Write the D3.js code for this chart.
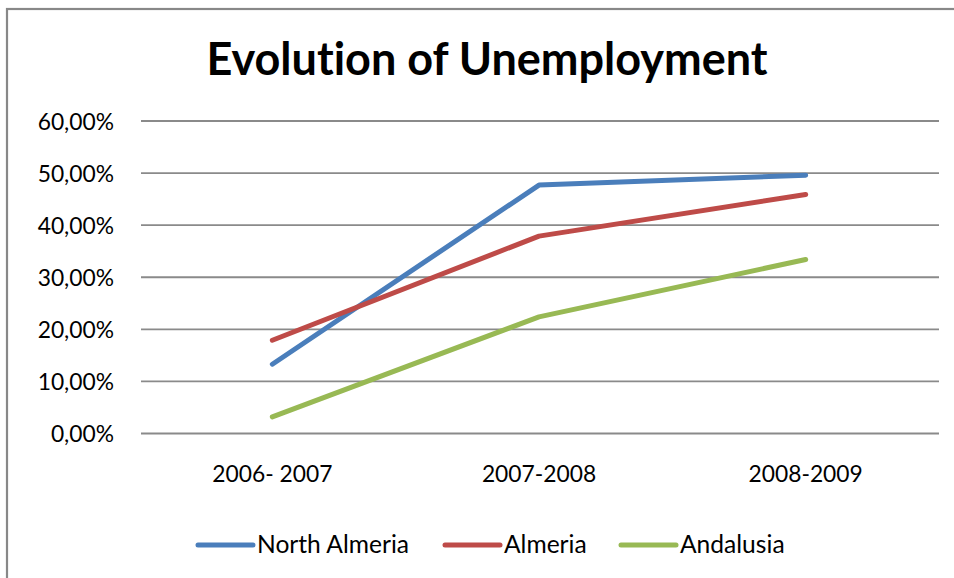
<!DOCTYPE html>
<html>
<head>
<meta charset="utf-8">
<script src="https://cdn.jsdelivr.net/npm/d3@7/dist/d3.min.js"></script>
<style>
  html, body { margin: 0; padding: 0; background: #fff; }
  svg { display: block; }
  text { font-family: Lato, "Open Sans", sans-serif; fill: #000; font-variant-ligatures: none; }
</style>
</head>
<body>
<svg id="chart" width="954" height="578"></svg>
<script>
// Unemployment rate per period
const periods = ["2006- 2007", "2007-2008", "2008-2009"];
const seriesNames = ["North Almeria", "Almeria", "Andalusia"];
const northAlmeria = [0.133, 0.477, 0.496];
const almeria = [0.179, 0.379, 0.459];
const andalusia = [0.032, 0.224, 0.334];
const seriesColors = ["#4a7ebb", "#be4b48", "#98b954"];
const yTicks = [0, 0.1, 0.2, 0.3, 0.4, 0.5, 0.6];

const series = [northAlmeria, almeria, andalusia].map((values, i) => ({
  name: seriesNames[i], color: seriesColors[i], values
}));

const svg = d3.select("#chart");

// outer frame
svg.append("rect")
  .attr("x", 7).attr("y", 9)
  .attr("width", 970).attr("height", 600)
  .attr("fill", "none").attr("stroke", "#888").attr("stroke-width", 2.2);

const x = d3.scaleBand().domain(periods).range([139, 939]);
const y = d3.scaleLinear().domain([0, 0.6]).range([433.5, 121]);

// title
svg.append("text")
  .attr("x", 487).attr("y", 75)
  .attr("text-anchor", "middle")
  .style("font-size", "45px").style("font-weight", "bold")
  .text("Evolution of Unemployment");

// horizontal gridlines
svg.append("g")
  .selectAll("line")
  .data(yTicks)
  .join("line")
  .attr("x1", 141).attr("x2", 939)
  .attr("y1", d => y(d)).attr("y2", d => y(d))
  .attr("stroke", "#8a8a8a").attr("stroke-width", 1.8);

// y axis labels
const fmt = d => d3.format(".2f")(d * 100).replace(".", ",") + "%";
const yAxis = d3.axisLeft(y).tickValues(yTicks).tickFormat(fmt).tickSize(0).tickPadding(0);
svg.append("g")
  .attr("transform", "translate(114,0)")
  .call(yAxis)
  .call(g => g.select(".domain").remove())
  .call(g => g.selectAll("text")
    .style("font-family", "Lato, sans-serif")
    .style("font-size", "22.8px")
    .attr("fill", "#000")
    .attr("dy", "0.36em"));

// x axis labels
const xAxis = d3.axisBottom(x).tickSize(0).tickPadding(0);
svg.append("g")
  .attr("transform", "translate(0,466)")
  .call(xAxis)
  .call(g => g.select(".domain").remove())
  .call(g => g.selectAll("text")
    .style("font-family", "Lato, sans-serif")
    .style("font-size", "22.8px")
    .attr("fill", "#000")
    .attr("dy", "0.71em"));

// series lines
const line = d3.line()
  .x((d, i) => x(periods[i]) + x.bandwidth() / 2)
  .y(d => y(d));

svg.append("g")
  .selectAll("path")
  .data(series)
  .join("path")
  .attr("d", d => line(d.values))
  .attr("fill", "none")
  .attr("stroke", d => d.color)
  .attr("stroke-width", 5)
  .attr("stroke-linecap", "round")
  .attr("stroke-linejoin", "round");

// legend
const legendX = [198, 445, 621];
const legend = svg.append("g")
  .selectAll("g")
  .data(series)
  .join("g")
  .attr("transform", (d, i) => `translate(${legendX[i]},545)`);
legend.append("line")
  .attr("x1", 0).attr("x2", 55)
  .attr("stroke", d => d.color)
  .attr("stroke-width", 5)
  .attr("stroke-linecap", "round");
legend.append("text")
  .attr("x", 59).attr("y", 8)
  .style("font-size", "24.6px")
  .text(d => d.name);
</script>
</body>
</html>
